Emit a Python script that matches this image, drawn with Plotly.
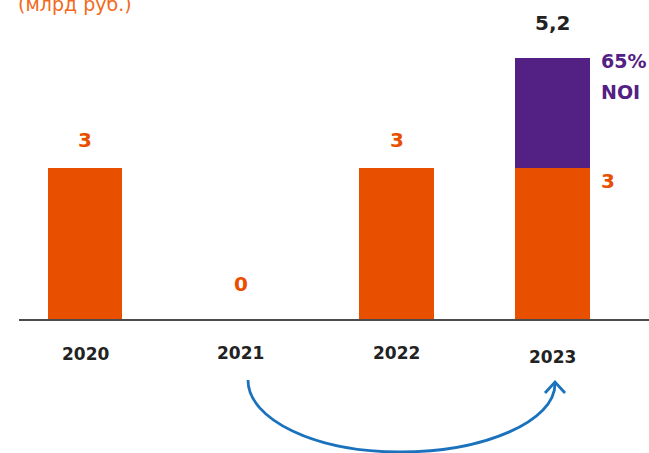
import plotly.graph_objects as go

# ---- data ----
years = ["2020", "2021", "2022", "2023"]
base_values = [3, 0, 3, 3]          # orange segment
extra_values = [0, 0, 0, 2.2]       # purple segment (NOI share)
total_labels = ["3", "0", "3", "5,2"]
unit_label = "(млрд руб.)"
noi_label = ["65%", "NOI"]

ORANGE = "#E85000"
PURPLE = "#522183"
DARK = "#222222"
BLUE = "#1A72BD"
FONT = "DejaVu Sans"

W, H = 649, 453
L, R, T, B = 19, 0, 0, 134
plot_w, plot_h = W - L - R, H - T - B

fig = go.Figure()
fig.add_bar(x=years, y=base_values, marker=dict(color=ORANGE, line_width=0),
            width=0.48, hoverinfo="skip")
fig.add_bar(x=years, y=extra_values, marker=dict(color=PURPLE, line_width=0),
            width=0.48, hoverinfo="skip")

ann = []
# value labels above bars
shifts = [28, 35, 28, 35]
for i, yr in enumerate(years):
    total = base_values[i] + extra_values[i]
    color = DARK if extra_values[i] > 0 else ORANGE
    ann.append(dict(x=i, y=total, xref="x", yref="y", text="<b>%s</b>" % total_labels[i],
                    showarrow=False, yanchor="middle", yshift=shifts[i],
                    font=dict(family=FONT, size=20, color=color)))
# year labels under the axis
year_shift = [-35, -34, -34, -38]
for i, yr in enumerate(years):
    ann.append(dict(x=i, y=0, xref="x", yref="y", text="<b>%s</b>" % yr, showarrow=False,
                    yanchor="middle", yshift=year_shift[i],
                    font=dict(family=FONT, size=17, color=DARK)))
# right-side labels for 2023
top23 = base_values[3] + extra_values[3]
ann.append(dict(x=3, y=top23, xref="x", yref="y",
                text="<b>%s</b>" % noi_label[0], showarrow=False, xanchor="left",
                yanchor="middle", xshift=47, yshift=-3,
                font=dict(family=FONT, size=19, color=PURPLE)))
ann.append(dict(x=3, y=top23, xref="x", yref="y",
                text="<b>%s</b>" % noi_label[1], showarrow=False, xanchor="left",
                yanchor="middle", xshift=47, yshift=-34,
                font=dict(family=FONT, size=19, color=PURPLE)))
ann.append(dict(x=3, y=base_values[3], xref="x", yref="y",
                text="<b>%s</b>" % base_values[3], showarrow=False, xanchor="left",
                yanchor="middle", xshift=47, yshift=-13,
                font=dict(family=FONT, size=20, color=ORANGE)))
# unit label (cut at the top, as in the reference)
ann.append(dict(x=0.0, y=1 - 4 / plot_h, xref="paper", yref="paper", text=unit_label,
                showarrow=False, xanchor="left", yanchor="middle", xshift=-3,
                font=dict(family=FONT, size=19, color="#F26A21")))


def px(x, y):
    return (x - L) / plot_w, (plot_h + T - y) / plot_h


# curved arrow from 2021 to 2023 (decoration, paper coords)
p0 = px(248, 380); c1 = px(248, 420); c2 = px(316, 452); m = px(400, 452)
c3 = px(485, 452); c4 = px(555, 421); p1 = px(555, 384)
curve = (f"M {p0[0]},{p0[1]} C {c1[0]},{c1[1]} {c2[0]},{c2[1]} {m[0]},{m[1]} "
         f"C {c3[0]},{c3[1]} {c4[0]},{c4[1]} {p1[0]},{p1[1]}")
a1 = px(545, 393); tip = px(555, 382); a2 = px(565, 393)
head = f"M {a1[0]},{a1[1]} L {tip[0]},{tip[1]} L {a2[0]},{a2[1]}"
shapes = [
    dict(type="path", path=curve, xref="paper", yref="paper",
         line=dict(color=BLUE, width=2.8)),
    dict(type="path", path=head, xref="paper", yref="paper",
         line=dict(color=BLUE, width=2.8)),
]

fig.update_layout(
    barmode="stack",
    width=W, height=H,
    margin=dict(l=L, r=R, t=T, b=B, pad=0),
    paper_bgcolor="white", plot_bgcolor="white",
    showlegend=False,
    annotations=ann,
    shapes=shapes,
    xaxis=dict(type="category", range=[-0.424, 3.62], showticklabels=False,
               showgrid=False, zeroline=False, showline=True,
               linecolor="#4a4a4a", linewidth=1.5, ticks=""),
    yaxis=dict(range=[0, plot_h / 50.2], visible=False, showgrid=False,
               zeroline=False),
)

fig.write_html("out.html", config={"displayModeBar": False},
               post_script="document.body.style.margin='0';document.body.style.overflow='hidden';")
